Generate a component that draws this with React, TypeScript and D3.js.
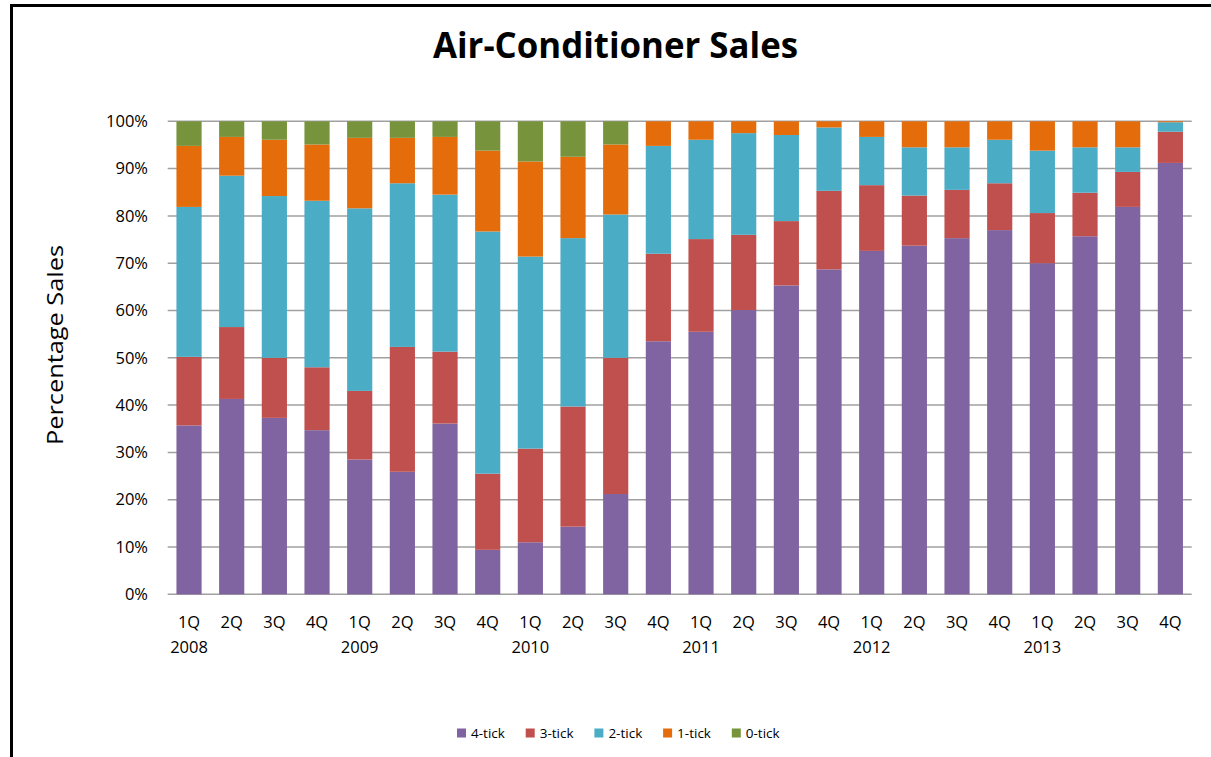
import React, { useEffect, useRef } from 'react';
import * as d3 from 'd3';

// quarters along the x axis, year label shown under each 1Q
const quarters = ['1Q','2Q','3Q','4Q','1Q','2Q','3Q','4Q','1Q','2Q','3Q','4Q','1Q','2Q','3Q','4Q','1Q','2Q','3Q','4Q','1Q','2Q','3Q','4Q'];
const years = ['2008','2009','2010','2011','2012','2013'];

// percentage of sales per rating
const tick4 = [35.7,41.3,37.3,34.7,28.5,25.9,36.1,9.4,11.0,14.3,21.2,53.5,55.5,60.1,65.3,68.7,72.6,73.7,75.3,77.0,70.0,75.7,81.9,91.2];
const tick3 = [14.5,15.2,12.7,13.3,14.5,26.4,15.2,16.1,19.8,25.4,28.8,18.5,19.6,15.9,13.6,16.6,13.9,10.6,10.2,9.9,10.6,9.2,7.4,6.6];
const tick2 = [31.7,32.0,34.2,35.2,38.6,34.6,33.2,51.2,40.6,35.6,30.3,22.8,21.0,21.5,18.2,13.4,10.2,10.2,9.0,9.2,13.2,9.6,5.2,2.0];
const tick1 = [12.9,8.2,11.9,11.9,14.9,9.6,12.2,17.1,20.1,17.2,14.8,5.2,3.9,2.5,2.9,1.3,3.3,5.5,5.5,3.9,6.2,5.5,5.5,0.2];
const tick0 = [5.2,3.3,3.9,4.9,3.5,3.5,3.3,6.2,8.5,7.5,4.9,0,0,0,0,0,0,0,0,0,0,0,0,0];

const seriesNames = ['4-tick','3-tick','2-tick','1-tick','0-tick'];
const seriesColors = ['#8064A2','#C0504D','#4BACC6','#E46C0A','#77933C'];
const yTicks = [0,0.1,0.2,0.3,0.4,0.5,0.6,0.7,0.8,0.9,1];

export default function App() {
  const ref = useRef<SVGSVGElement | null>(null);

  useEffect(() => {
    const svg = d3.select(ref.current);
    svg.selectAll('*').remove();

    const W = 1211, H = 757;
    const font = "'Open Sans', 'Noto Sans', sans-serif";
    const left = 167.7, right = 1191.7, top = 121.3, bottom = 594.3;

    // table built from the series arrays
    const rows = quarters.map((q, i) => ({
      idx: String(i),
      '4-tick': tick4[i], '3-tick': tick3[i], '2-tick': tick2[i], '1-tick': tick1[i], '0-tick': tick0[i]
    }));

    const stack = d3.stack<any>().keys(seriesNames).offset(d3.stackOffsetExpand);
    const layers = stack(rows);

    const x = d3.scaleBand()
      .domain(rows.map(d => d.idx))
      .range([left, right])
      .paddingInner(0.41)
      .paddingOuter(0.205);
    const y = d3.scaleLinear().domain([0, 1]).range([bottom, top]);

    svg.append('rect').attr('width', W).attr('height', H).attr('fill', '#fff');

    // frame
    svg.append('line').attr('x1', 11.5).attr('x2', 11.5).attr('y1', 4).attr('y2', H)
      .attr('stroke', '#000').attr('stroke-width', 3);
    svg.append('line').attr('x1', 10).attr('x2', W).attr('y1', 5.5).attr('y2', 5.5)
      .attr('stroke', '#000').attr('stroke-width', 3);

    // title
    svg.append('text')
      .attr('x', 615.5).attr('y', 58)
      .attr('text-anchor', 'middle')
      .attr('font-family', font).attr('font-weight', 'bold').attr('font-size', 36)
      .attr('textLength', 365).attr('lengthAdjust', 'spacingAndGlyphs')
      .attr('fill', '#000')
      .text('Air-Conditioner Sales');

    // grid
    svg.append('g').selectAll('line').data(yTicks).enter().append('line')
      .attr('x1', left).attr('x2', right)
      .attr('y1', d => y(d)).attr('y2', d => y(d))
      .attr('stroke', '#A0A0A0').attr('stroke-width', 1.5);

    // y labels
    svg.append('g').selectAll('text').data(yTicks).enter().append('text')
      .attr('x', 148).attr('y', d => y(d))
      .attr('dy', '0.35em')
      .attr('text-anchor', 'end')
      .attr('font-family', font).attr('font-size', 16.5)
      .attr('fill', '#000')
      .text(d => d3.format('.0%')(d));

    // y title
    svg.append('text')
      .attr('transform', 'translate(63,345) rotate(-90)')
      .attr('text-anchor', 'middle')
      .attr('font-family', font).attr('font-size', 21)
      .attr('textLength', 200).attr('lengthAdjust', 'spacingAndGlyphs')
      .attr('fill', '#000')
      .text('Percentage Sales');

    // bars
    const groups = svg.append('g').selectAll('g').data(layers).enter().append('g')
      .attr('fill', (d, i) => seriesColors[i]);
    groups.selectAll('rect').data(d => d).enter().append('rect')
      .attr('x', (d: any) => x(d.data.idx) as number)
      .attr('width', x.bandwidth())
      .attr('y', d => y(d[1]))
      .attr('height', d => Math.max(0, y(d[0]) - y(d[1])));

    // x labels
    svg.append('g').selectAll('text').data(quarters).enter().append('text')
      .attr('x', (d, i) => (x(String(i)) as number) + x.bandwidth() / 2)
      .attr('y', 622).attr('dy', '0.35em')
      .attr('text-anchor', 'middle')
      .attr('font-family', font).attr('font-size', 16.5)
      .attr('fill', '#000')
      .text(d => d);

    svg.append('g').selectAll('text').data(years).enter().append('text')
      .attr('x', (d, i) => (x(String(i * 4)) as number) + x.bandwidth() / 2)
      .attr('y', 647).attr('dy', '0.35em')
      .attr('text-anchor', 'middle')
      .attr('font-family', font).attr('font-size', 16.5)
      .attr('fill', '#000')
      .text(d => d);

    // legend
    const legend = svg.append('g').selectAll('g').data(seriesNames).enter().append('g')
      .attr('transform', (d, i) => `translate(${457 + i * 68.7},733)`);
    legend.append('rect')
      .attr('x', 0).attr('y', -4.5).attr('width', 9).attr('height', 9)
      .attr('fill', (d, i) => seriesColors[i]);
    legend.append('text')
      .attr('x', 14).attr('dy', '0.35em')
      .attr('font-family', font).attr('font-size', 13.5)
      .attr('fill', '#000')
      .text(d => d);
  }, []);

  return (
    <svg ref={ref} width={1211} height={757}
      style={{ position: 'absolute', left: 0, top: 0, display: 'block' }} />
  );
}
